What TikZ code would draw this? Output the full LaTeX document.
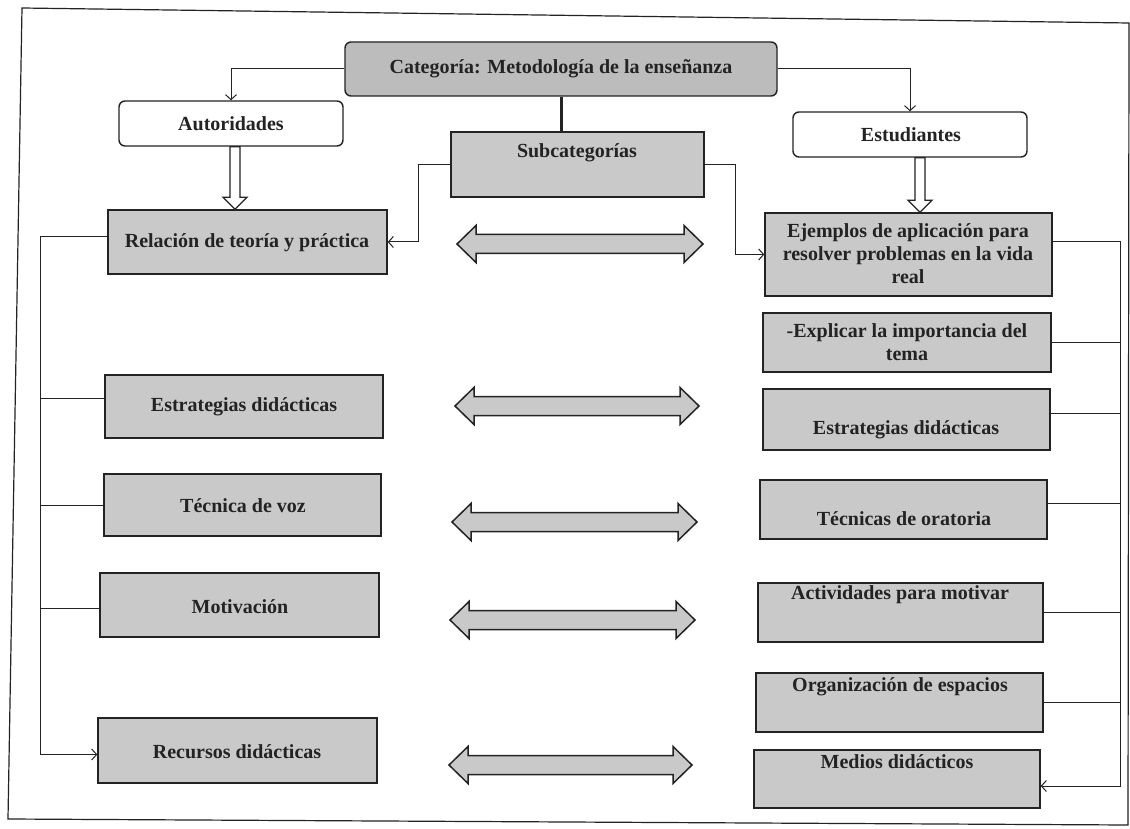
\documentclass[tikz,border=0pt]{standalone}
\usepackage{fontspec}
\setmainfont{Liberation Serif}
\usetikzlibrary{arrows.meta,calc}
\definecolor{boxgray}{RGB}{201,201,201}
\definecolor{catgray}{RGB}{188,188,188}
\definecolor{ink}{RGB}{35,35,35}
\newcommand{\dblarrow}[3]{\draw[dbl] (#1,#3) -- (#1+19,#3-18.5) -- (#1+19,#3-9.5) -- (#2-19,#3-9.5) -- (#2-19,#3-18.5) -- (#2,#3) -- (#2-19,#3+18.5) -- (#2-19,#3+9.5) -- (#1+19,#3+9.5) -- (#1+19,#3+18.5) -- cycle;}
\begin{document}
\begin{tikzpicture}[x=1pt,y=-1pt,
  box/.style={draw=ink, line width=1.4pt, fill=boxgray, inner sep=0pt},
  rbox/.style={box, rounded corners=6pt},
  lbl/.style={font=\fontsize{20}{23}\selectfont\bfseries, text=ink, align=center, inner sep=0pt},
  conn/.style={draw=ink, line width=1pt},
  tip/.style={-{Straight Barb[length=5pt,width=11pt]}},
  hollow/.style={draw=ink, line width=1.3pt, fill=white},
  dbl/.style={draw=ink, line width=1.5pt, fill=boxgray}]
\useasboundingbox (0,0) rectangle (1130,829);
\fill[white] (0,0) rectangle (1130,829);
% frame
\draw[ink, line width=1.2pt] (22,8) -- (1129,23) -- (1128,825) -- (8,819) -- cycle;

% boxes
\node[rbox, fill=catgray, minimum width=432, minimum height=54] (cat) at (561,69) {};
\node[rbox, fill=white, minimum width=224, minimum height=45] (aut) at (231,123.5) {};
\node[rbox, fill=white, minimum width=234, minimum height=45] (est) at (910,134.5) {};
\node[box, minimum width=253, minimum height=65] (sub) at (577.5,164.5) {};
\node[box, minimum width=279, minimum height=64] (rel) at (247.5,242) {};
\node[box, minimum width=287, minimum height=83] (eje) at (908.5,254.5) {};
\node[box, minimum width=278, minimum height=63] (estL) at (244,406.5) {};
\node[box, minimum width=277, minimum height=62] (tecL) at (242.5,505) {};
\node[box, minimum width=279, minimum height=64] (motL) at (239.5,605) {};
\node[box, minimum width=279, minimum height=65] (recL) at (237.5,750.5) {};
\node[box, minimum width=288, minimum height=59] (expR) at (907,342.5) {};
\node[box, minimum width=287, minimum height=61] (estR) at (906.5,419.5) {};
\node[box, minimum width=287, minimum height=59] (oraR) at (903.5,509.5) {};
\node[box, minimum width=285, minimum height=59] (actR) at (900.5,612.5) {};
\node[box, minimum width=287, minimum height=59] (orgR) at (899.5,702.5) {};
\node[box, minimum width=286, minimum height=58] (medR) at (897,779) {};

% texts
\node[lbl] (tcat) at (561,69) {Categoría: Metodología de la enseñanza};
\node[lbl] (taut) at (231,124) {Autoridades};
\node[lbl] (test) at (911,135) {Estudiantes};
\node[lbl] (tsub) at (577,153) {Subcategorías};
\node[lbl] (trel) at (247,243) {Relación de teoría y práctica};
\node[lbl] (teje) at (908,254) {Ejemplos de aplicación para\\resolver problemas en la vida\\real};
\node[lbl] (testL) at (244,407) {Estrategias didácticas};
\node[lbl] (ttecL) at (243,506) {Técnica de voz};
\node[lbl] (tmotL) at (240,607) {Motivación};
\node[lbl] (trecL) at (237,752) {Recursos didácticas};
\node[lbl] (texpR) at (907,342) {-Explicar la importancia del\\tema};
\node[lbl] (testR) at (906,430) {Estrategias didácticas};
\node[lbl] (toraR) at (904,519) {Técnicas de oratoria};
\node[lbl] (tactR) at (900,595) {Actividades para motivar};
\node[lbl] (torgR) at (900,687) {Organización de espacios};
\node[lbl] (tmedR) at (897,762) {Medios didácticos};

% top connectors
\draw[conn,tip] (cat.west) -| (aut.north);
\draw[conn,tip] (cat.east) -| (est.north);
\draw[draw=ink, line width=3pt] (cat.south) -- (cat.south |- sub.north);
\draw[conn,tip] (sub.west) -- ++(-32,0) |- (rel.east);
\draw[conn,tip] (sub.east) -- ++(31,0) |- (eje.west);

% hollow arrows
\draw[hollow] let \p1=($(aut.south)+(4,0)$), \p2=(rel.north) in
  (\x1-5pt,\y1) -- (\x1-5pt,\y2+12pt) -- (\x1-12pt,\y2+12pt) -- (\x1,\y2) -- (\x1+12pt,\y2+12pt) -- (\x1+5pt,\y2+12pt) -- (\x1+5pt,\y1) -- cycle;
\draw[hollow] let \p1=($(est.south)+(10,0)$), \p2=(eje.north) in
  (\x1-5pt,\y1) -- (\x1-5pt,\y2+12pt) -- (\x1-12pt,\y2+12pt) -- (\x1,\y2) -- (\x1+12pt,\y2+12pt) -- (\x1+5pt,\y2+12pt) -- (\x1+5pt,\y1) -- cycle;

% left trunk
\coordinate (lt) at (40,0);
\draw[conn,tip] ([yshift=5pt]rel.west) -- ([yshift=5pt]rel.west -| lt) |- ([yshift=-4pt]recL.west);
\draw[conn] ([yshift=8pt]estL.west) -- ([yshift=8pt]estL.west -| lt);
\draw[conn] (tecL.west) -- (tecL.west -| lt);
\draw[conn] ([yshift=-3pt]motL.west) -- ([yshift=-3pt]motL.west -| lt);

% right trunk
\coordinate (rt) at (1120,0);
\draw[conn,tip] ([yshift=13pt]eje.east) -- ([yshift=13pt]eje.east -| rt) |- ([yshift=-7pt]medR.east);
\draw[conn] (expR.east) -- (expR.east -| rt);
\draw[conn] ([yshift=6pt]estR.east) -- ([yshift=6pt]estR.east -| rt);
\draw[conn] ([yshift=6pt]oraR.east) -- ([yshift=6pt]oraR.east -| rt);
\draw[conn] (actR.east) -- (actR.east -| rt);
\draw[conn] (orgR.east) -- (orgR.east -| rt);

% double arrows
\dblarrow{457}{703}{244}
\dblarrow{455}{699}{406}
\dblarrow{452}{697}{522}
\dblarrow{450}{695}{620}
\dblarrow{449}{692}{765}
\end{tikzpicture}
\end{document}
